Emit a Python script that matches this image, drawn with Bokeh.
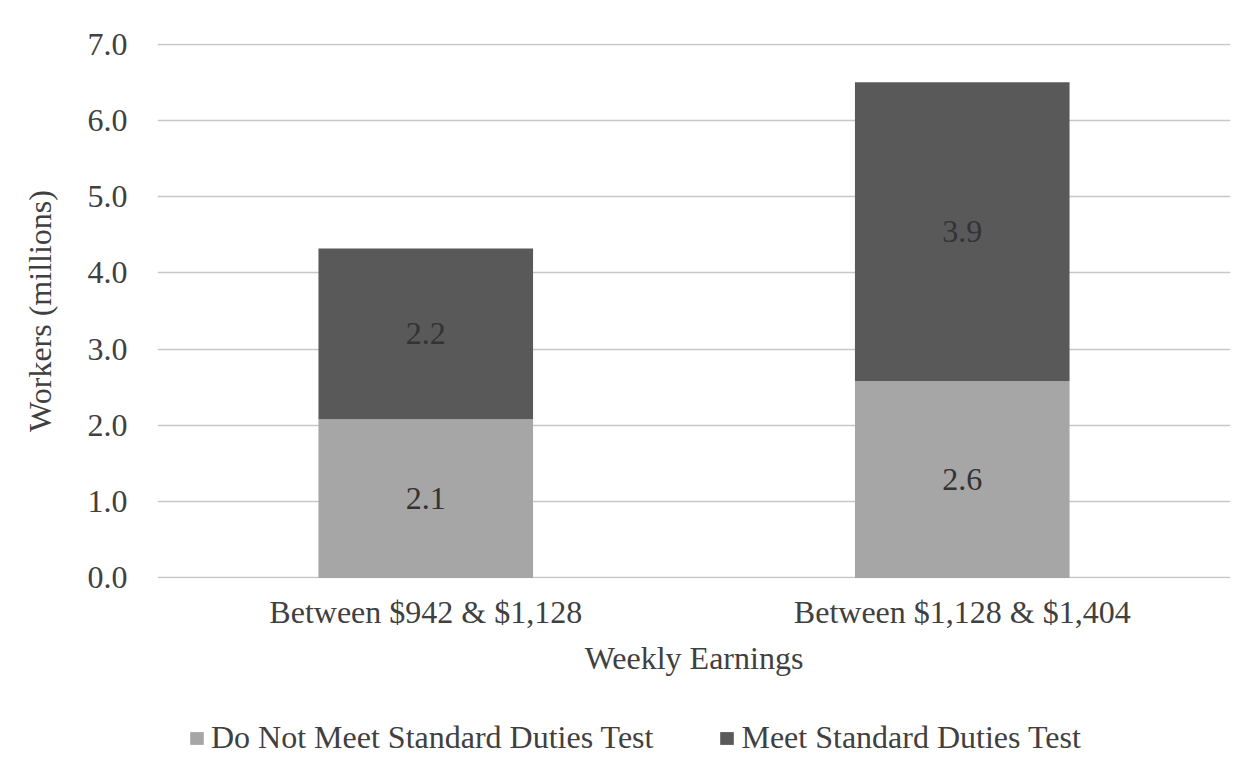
from bokeh.plotting import figure
from bokeh.layouts import column
from bokeh.models import ColumnDataSource, LabelSet, Legend, LegendItem, NumeralTickFormatter, SingleIntervalTicker, FactorRange
from bokeh.embed import file_html
from bokeh.resources import INLINE

categories = ["Between $942 & $1,128", "Between $1,128 & $1,404"]
series_names = ["Do Not Meet Standard Duties Test", "Meet Standard Duties Test"]
not_meet = [2.08, 2.58]
meet = [2.24, 3.92]
colors = ["#a6a6a6", "#595959"]

FONT = "Liberation Serif"
TXT = "#404040"
FS = "32px"

src = ColumnDataSource(dict(cat=categories, not_meet=not_meet, meet=meet))

p = figure(x_range=FactorRange(*categories, range_padding=0), y_range=(-0.008, 7.008),
           width=1240, height=708, output_backend="svg", toolbar_location=None,
           min_border_left=157, min_border_right=10, min_border_top=43, min_border_bottom=130)

r = p.vbar_stack(["not_meet", "meet"], x="cat", width=0.4, color=colors, source=src, line_color=None)

# labels
lab_x = categories + categories
lab_y = [v / 2 for v in not_meet] + [a + b / 2 for a, b in zip(not_meet, meet)]
lab_t = ["%.1f" % v for v in not_meet] + ["%.1f" % v for v in meet]
lsrc = ColumnDataSource(dict(x=lab_x, y=lab_y, t=lab_t))
p.add_layout(LabelSet(x="x", y="y", text="t", source=lsrc, text_align="center", text_baseline="middle",
                      text_font=FONT, text_font_size=FS, text_color="#333333"))

p.yaxis.ticker = SingleIntervalTicker(interval=1)
p.yaxis.formatter = NumeralTickFormatter(format="0.0")
for ax in (p.xaxis, p.yaxis):
    ax.axis_line_color = None
    ax.major_tick_line_color = None
    ax.minor_tick_line_color = None
    ax.major_label_text_font = FONT
    ax.major_label_text_font_size = FS
    ax.major_label_text_color = TXT
    ax.axis_label_text_font = FONT
    ax.axis_label_text_font_size = FS
    ax.axis_label_text_font_style = "normal"
    ax.axis_label_text_color = TXT
p.yaxis.axis_label = "Workers (millions)"
p.xaxis.axis_label = "Weekly Earnings"
p.yaxis.major_label_standoff = 24
p.xaxis.major_label_standoff = 9
p.xaxis.axis_label_standoff = 7
p.yaxis.axis_label_standoff = 27

p.xgrid.grid_line_color = None
p.ygrid.grid_line_color = "#c8c8c8"
p.ygrid.grid_line_width = 1.5
p.outline_line_color = None

# legend strip below the chart (hidden copies of the stacked bars feed the legend)
p2 = figure(width=1240, height=58, output_backend="svg", toolbar_location=None,
            min_border_left=157, min_border_right=10, min_border_top=0, min_border_bottom=0,
            x_range=FactorRange(*categories, range_padding=0), y_range=(0, 7))
p2.axis.visible = False
p2.grid.visible = False
p2.outline_line_color = None
lr = p2.vbar_stack(["not_meet", "meet"], x="cat", width=0.4, color=colors, source=src, line_color=None)
for g in lr:
    g.visible = False
legend = Legend(items=[LegendItem(label=series_names[i], renderers=[lr[i]]) for i in range(2)],
                orientation="horizontal", location=(31, 10), click_policy="none",
                label_text_font=FONT, label_text_font_size=FS, label_text_color=TXT,
                glyph_width=17, glyph_height=16, spacing=65, label_standoff=6, padding=0,
                border_line_color=None, background_fill_alpha=0, margin=0)
p2.add_layout(legend, "center")

layout = column(p, p2)
open("out.html", "w").write(file_html(layout, INLINE))
